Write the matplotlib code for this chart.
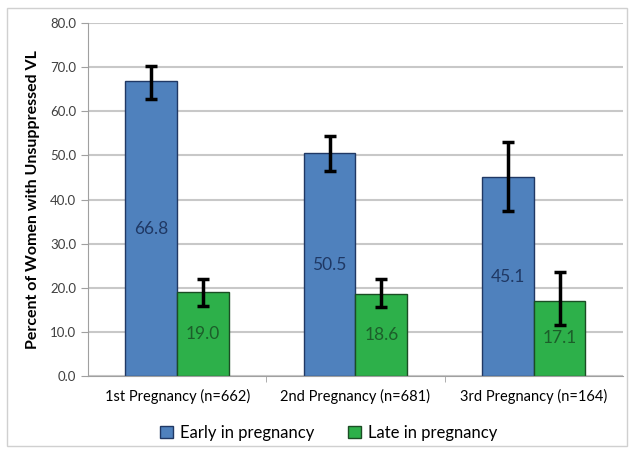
import matplotlib
matplotlib.use("Agg")
from matplotlib import pyplot as plt
from matplotlib.patches import Rectangle
from matplotlib.ticker import FormatStrFormatter
import numpy as np

categories = ["1st Pregnancy (n=662)", "2nd Pregnancy (n=681)", "3rd Pregnancy (n=164)"]
early = [66.8, 50.5, 45.1]
late = [19.0, 18.6, 17.1]
early_lo = [62.8, 46.5, 37.3]
early_hi = [70.3, 54.5, 53.0]
late_lo = [15.9, 15.7, 11.6]
late_hi = [22.1, 21.9, 23.6]

plt.rcParams["font.family"] = ["Lato", "DejaVu Sans"]

fig = plt.figure(figsize=(6.33, 4.5), dpi=100)
ax = fig.add_axes([0.139, 0.164, 0.845, 0.785])

x = np.arange(len(categories))
w = 0.29
early_err = [np.array(early) - np.array(early_lo), np.array(early_hi) - np.array(early)]
late_err = [np.array(late) - np.array(late_lo), np.array(late_hi) - np.array(late)]

b1 = ax.bar(x - w / 2, early, w, color="#4F81BD", edgecolor="#203864", linewidth=1.0,
            label="Early in pregnancy", zorder=3)
b2 = ax.bar(x + w / 2, late, w, color="#2DB04A", edgecolor="#1B4D24", linewidth=1.0,
            label="Late in pregnancy", zorder=3)
ax.errorbar(x - w / 2, early, yerr=early_err, fmt="none", ecolor="black",
            elinewidth=2.5, capsize=4, capthick=2.5, zorder=4)
ax.errorbar(x + w / 2, late, yerr=late_err, fmt="none", ecolor="black",
            elinewidth=2.5, capsize=4, capthick=2.5, zorder=4)

ax.bar_label(b1, labels=[f"{v:.1f}" for v in early], label_type="center",
             color="#1F3864", fontsize=12.5)
ax.bar_label(b2, labels=[f"{v:.1f}" for v in late], label_type="center",
             color="#1C5E2A", fontsize=12.5)

ax.set_ylim(0, 80)
ax.set_yticks(np.arange(0, 81, 10))
ax.yaxis.set_major_formatter(FormatStrFormatter("%.1f"))
ax.set_xlim(-0.5, 2.5)
ax.set_xticks(x)
ax.set_xticklabels(categories, fontsize=10.5)
ax.set_xticks([0.5, 1.5], minor=True)
ax.tick_params(axis="x", which="major", length=0, pad=9)
ax.tick_params(axis="x", which="minor", length=4, color="#A0A0A0")
ax.tick_params(axis="y", length=5, color="#A0A0A0", labelsize=9.5, labelcolor="#404040")

ax.grid(axis="y", color="#C8C8C8", linewidth=1.5, zorder=0)
for s in ["top", "right"]:
    ax.spines[s].set_visible(False)
for s in ["left", "bottom"]:
    ax.spines[s].set_color("#A0A0A0")
    ax.spines[s].set_zorder(5)

ax.set_ylabel("Percent of Women with Unsuppressed VL", fontsize=11.5,
              fontweight="bold", labelpad=7)

ax.legend(loc="upper center", bbox_to_anchor=(0.45, -0.095), ncol=2, frameon=False,
          fontsize=12, handlelength=0.8, handleheight=0.8, columnspacing=2.0,
          handletextpad=0.4)

fig.patches.append(Rectangle((0.011, 0.008), 0.98, 0.975, transform=fig.transFigure,
                             fill=False, edgecolor="#D0D0D0", linewidth=1.0))

fig.savefig("out.png", dpi=100)
